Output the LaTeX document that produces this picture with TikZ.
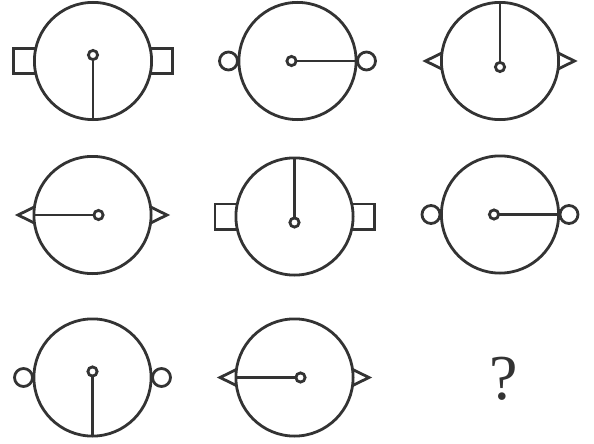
\documentclass[tikz,border=0pt]{standalone}
\usepackage{fontspec}
\setmainfont{Liberation Serif}
\definecolor{ink}{HTML}{333333}
\tikzset{
  rim/.style={draw=ink,line width=2.8pt},
  pics/earsq/.style={code={
    \draw[rim] (-79.6,-12.6) rectangle (-45,12.6);
    \draw[rim] (45,-12.6) rectangle (79.6,12.6);
  }},
  pics/earci/.style={code={
    \draw[rim] (-69,0) circle[radius=9pt];
    \draw[rim] (69,0) circle[radius=9pt];
  }},
  pics/eartri/.style={code={
    \draw[rim] (-74.5,0) -- (-57.5,-8.3) -- (-57.5,8.3) -- cycle;
    \draw[rim] (74.5,0) -- (57.5,-8.3) -- (57.5,8.3) -- cycle;
  }},
}
\begin{document}
\begin{tikzpicture}[x=1pt,y=-1pt]
  \useasboundingbox (0,0) rectangle (594,444);
  % centre x / centre y / ears / needle direction
  \foreach \cx/\cy/\ear/\dx/\dy in {93/61/sq/0/1, 297.5/61/ci/1/0, 500/61/tri/0/-1,
      92.5/215/tri/-1/0, 294.5/216.5/sq/0/-1, 500/214.5/ci/1/0,
      92.5/377.5/ci/0/1, 294.5/377.5/tri/-1/0} {
    \begin{scope}[shift={(\cx,\cy)}]
      \coordinate (hub) at (0,0);
      \coordinate (pivot) at ({-6*\dx},{-6*\dy});
      \coordinate (start) at ({-1.4*\dx},{-1.4*\dy});
      \coordinate (tip) at ({58.6*\dx},{58.6*\dy});
      \pic at (hub) {ear\ear};
      \draw[rim,fill=white] (hub) circle[radius=58.6pt];
      \draw[rim] (pivot) circle[radius=4.6pt];
      \draw[rim] (start) -- (tip);
    \end{scope}
  }
  \node[text=ink,inner sep=0pt,font=\fontsize{64}{64}\selectfont] (qmark) at (503.5,379) {?};
\end{tikzpicture}
\end{document}
